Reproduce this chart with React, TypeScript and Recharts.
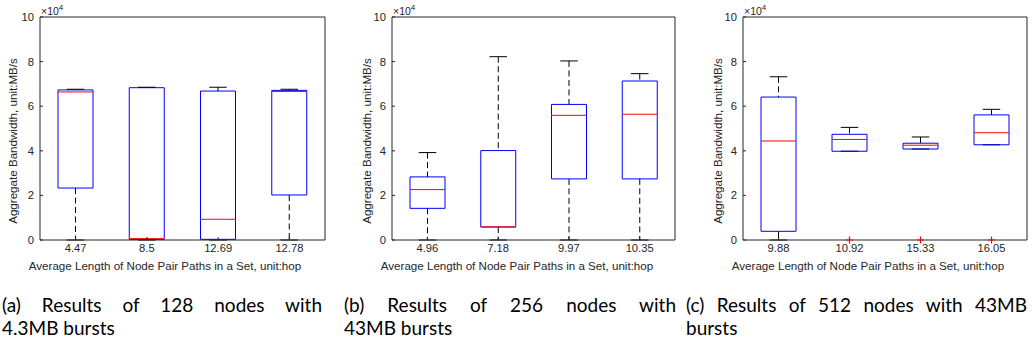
import { ComposedChart, Bar, Line, Scatter, XAxis, YAxis } from "recharts";

// Box-plot panels (MATLAB style), one per network size. Values in MB/s.
const hopsA = ["4.47", "8.5", "12.69", "12.78"];
const lowA = [0, 0, 0, 0];
const q1A = [23300, 300, 300, 20200];
const medA = [66400, 600, 9300, 66600];
const q3A = [67300, 68300, 66800, 67100];
const highA = [67600, 68500, 68500, 67600];
const outA: (number | null)[] = [null, null, null, null];

const hopsB = ["4.96", "7.18", "9.97", "10.35"];
const lowB = [0, 0, 0, 0];
const q1B = [14200, 5800, 27400, 27400];
const medB = [22600, 5900, 55900, 56400];
const q3B = [28300, 40100, 60800, 71300];
const highB = [39200, 82200, 80300, 74600];
const outB: (number | null)[] = [null, null, null, null];

const hopsC = ["9.88", "10.92", "15.33", "16.05"];
const lowC = [0, 39800, 40800, 42700];
const q1C = [3900, 39800, 40800, 42700];
const medC = [44400, 45100, 42500, 48100];
const q3C = [64100, 47400, 43400, 56100];
const highC = [73200, 50500, 46200, 58600];
const outC: (number | null)[] = [null, 0, 0, 0];

const yTicks = [0, 20000, 40000, 60000, 80000, 100000];

const AX = "#262626";
const FONT = "'Liberation Sans', Arial, sans-serif";

function buildRows(
  names: string[],
  low: number[],
  q1: number[],
  med: number[],
  q3: number[],
  high: number[],
  out: (number | null)[]
) {
  return names.map((name, i) => ({
    name,
    base: low[i],
    wLow: q1[i] - low[i],
    boxLow: med[i] - q1[i],
    boxHigh: q3[i] - med[i],
    wHigh: high[i] - q3[i],
    outlier: out[i],
  }));
}

const WhiskerLow = (p: any) => {
  const { x, y, width, height } = p;
  const cx = x + width / 2;
  const yb = y + height;
  return (
    <g>
      {height > 0.5 && (
        <line x1={cx} x2={cx} y1={y} y2={yb} stroke="#000" strokeDasharray="6 3.5" />
      )}
      <line x1={cx - width / 4} x2={cx + width / 4} y1={yb} y2={yb} stroke="#000" />
    </g>
  );
};

const WhiskerHigh = (p: any) => {
  const { x, y, width, height } = p;
  const cx = x + width / 2;
  return (
    <g>
      {height > 0.5 && (
        <line x1={cx} x2={cx} y1={y} y2={y + height} stroke="#000" strokeDasharray="6 3.5" />
      )}
      <line x1={cx - width / 4} x2={cx + width / 4} y1={y} y2={y} stroke="#000" />
    </g>
  );
};

// lower half of the box: sides and bottom edge
const BoxLow = (p: any) => {
  const { x, y, width, height } = p;
  const yb = y + height;
  return <path d={`M${x},${y}V${yb}H${x + width}V${y}`} fill="none" stroke="#0000ff" />;
};

// upper half: sides, top edge and the red median line
const BoxHigh = (p: any) => {
  const { x, y, width, height } = p;
  const yb = y + height;
  return (
    <g>
      <path d={`M${x},${yb}V${y}H${x + width}V${yb}`} fill="none" stroke="#0000ff" />
      <line x1={x} x2={x + width} y1={yb} y2={yb} stroke="#ff0000" />
    </g>
  );
};

// MATLAB '+' outlier marker
const Plus = (p: any) => {
  const cx = p.cx ?? p.x + p.width / 2;
  const cy = p.cy ?? p.y + p.height / 2;
  return (
    <path d={`M${cx - 3.5},${cy}H${cx + 3.5}M${cx},${cy - 3.5}V${cy + 3.5}`} stroke="#ff0000" strokeWidth={1.2} fill="none" />
  );
};

const XTitle = () => (
  <text x={165} y={265} textAnchor="middle" dominantBaseline="central" fontSize={11.6} fill={AX} fontFamily={FONT}>
    Average Length of Node Pair Paths in a Set, unit:hop
  </text>
);

const YTitle = ({ lx }: { lx: number }) => (
  <g fontFamily={FONT} fill={AX}>
    <text
      x={lx}
      y={141}
      transform={`rotate(-90, ${lx}, 141)`}
      textAnchor="middle"
      dominantBaseline="central"
      fontSize={11.6}
    >
      Aggregate Bandwidth, unit:MB/s
    </text>
    <text x={41} y={15} fontSize={10.5}>
      ×10
      <tspan dy={-5} fontSize={8}>
        4
      </tspan>
    </text>
  </g>
);

function BoxPanel({
  rows,
  left,
  right,
  lx,
}: {
  rows: ReturnType<typeof buildRows>;
  left: number;
  right: number;
  lx: number;
}) {
  return (
    <div style={{ position: "absolute", left, top: 0 }}>
      <ComposedChart width={340} height={275} data={rows} margin={{ top: 16, right, bottom: 0, left: 0 }} barGap={0}>
        <XAxis
          dataKey="name"
          height={35}
          tickSize={-3}
          tickMargin={7}
          axisLine={{ stroke: AX }}
          tickLine={{ stroke: AX }}
          tick={{ fontSize: 11.2, fill: AX, fontFamily: FONT }}
          label={<XTitle />}
        />
        <XAxis
          xAxisId="top"
          dataKey="name"
          orientation="top"
          height={1}
          tickSize={-3}
          axisLine={{ stroke: AX }}
          tickLine={{ stroke: AX }}
          tick={false}
        />
        <YAxis
          width={40}
          type="number"
          domain={[0, 100000]}
          ticks={yTicks}
          interval={0}
          tickSize={-3}
          tickMargin={9}
          tickFormatter={(v: number) => String(v / 10000)}
          axisLine={{ stroke: AX }}
          tickLine={{ stroke: AX }}
          tick={{ fontSize: 11.2, fill: AX, fontFamily: FONT }}
          label={<YTitle lx={lx} />}
        />
        <YAxis
          yAxisId="right"
          orientation="right"
          width={1}
          type="number"
          domain={[0, 100000]}
          ticks={yTicks}
          interval={0}
          tickSize={-3}
          axisLine={{ stroke: AX }}
          tickLine={{ stroke: AX }}
          tick={false}
        />
        <Bar dataKey="base" stackId="b" fill="none" barSize={35} isAnimationActive={false} />
        <Bar dataKey="wLow" stackId="b" barSize={35} shape={WhiskerLow} isAnimationActive={false} />
        <Bar dataKey="boxLow" stackId="b" barSize={35} shape={BoxLow} isAnimationActive={false} />
        <Bar dataKey="boxHigh" stackId="b" barSize={35} shape={BoxHigh} isAnimationActive={false} />
        <Bar dataKey="wHigh" stackId="b" barSize={35} shape={WhiskerHigh} isAnimationActive={false} />
        {/* invisible series that keeps the top/right frame axes bound */}
        <Line
          dataKey="base"
          xAxisId="top"
          yAxisId="right"
          stroke="none"
          dot={false}
          activeDot={false}
          isAnimationActive={false}
        />
        <Scatter dataKey="outlier" fill="#ff0000" shape={Plus} isAnimationActive={false} />
      </ComposedChart>
    </div>
  );
}

const capFont = "Lato, 'Open Sans', sans-serif";

function Caption({ left, width, line1, line2 }: { left: number; width: number; line1: string; line2: string }) {
  return (
    <div style={{ position: "absolute", left, top: 293, width, fontFamily: capFont, fontSize: 19, lineHeight: "23px", color: "#000" }}>
      <div style={{ textAlign: "justify", textAlignLast: "justify", whiteSpace: "nowrap" as const }}>{line1}</div>
      <div>{line2}</div>
    </div>
  );
}

export default function App() {
  const rowsA = buildRows(hopsA, lowA, q1A, medA, q3A, highA, outA);
  const rowsB = buildRows(hopsB, lowB, q1B, medB, q3B, highB, outB);
  const rowsC = buildRows(hopsC, lowC, q1C, medC, q3C, highC, outC);
  return (
    <div style={{ position: "absolute", left: 0, top: 0, width: 1032, height: 344, background: "#fff", overflow: "hidden" }}>
      <BoxPanel rows={rowsA} left={0} right={14} lx={12} />
      <BoxPanel rows={rowsB} left={352} right={16} lx={14} />
      <BoxPanel rows={rowsC} left={703} right={15} lx={14} />
      <Caption left={2} width={320} line1="(a) Results of 128 nodes with" line2="4.3MB bursts" />
      <Caption left={344} width={332} line1="(b) Results of 256 nodes with" line2="43MB bursts" />
      <Caption left={686} width={341} line1="(c) Results of 512 nodes with 43MB" line2="bursts" />
    </div>
  );
}
